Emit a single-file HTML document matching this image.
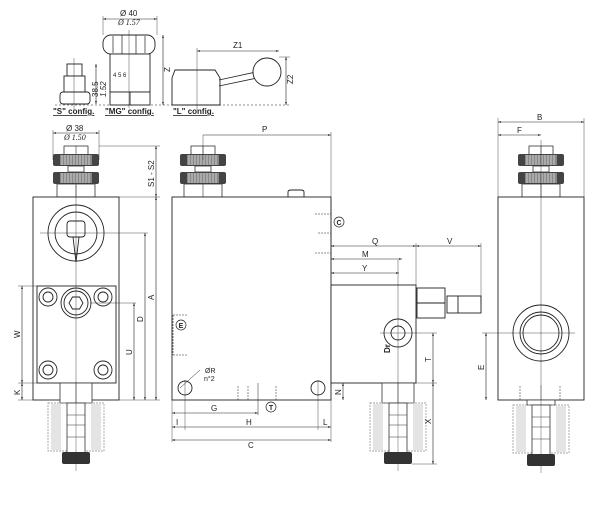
<!DOCTYPE html>
<html><head><meta charset="utf-8"><style>
html,body{margin:0;padding:0;background:#fff;}
svg{display:block;font-family:"Liberation Sans",sans-serif;}
</style></head><body>
<svg width="600" height="522" viewBox="0 0 600 522" xmlns="http://www.w3.org/2000/svg">
<defs>
<marker id="a" viewBox="0 0 10 10" refX="10" refY="5" markerWidth="5" markerHeight="5" orient="auto-start-reverse"><path d="M0,2 L10,5 L0,8 z" fill="#222"/></marker>
<g id="knob">
  <rect x="-12" y="0" width="24" height="9" fill="#fff" stroke="#333" stroke-width="0.8"/>
  <line x1="0" y1="0" x2="0" y2="9" stroke="#333" stroke-width="0.6"/>
  <rect x="-23" y="8" width="46" height="12" rx="2" fill="#444"/>
  <rect x="-16" y="9" width="32" height="10" fill="#888"/>
  <path d="M-14,9v10M-11,9v10M-8,9v10M-5,9v10M-2,9v10M1,9v10M4,9v10M7,9v10M10,9v10M13,9v10" stroke="#ddd" stroke-width="0.8"/>
  <rect x="-8" y="20" width="16" height="6" fill="#fff" stroke="#333" stroke-width="0.8"/>
  <rect x="-23" y="26" width="46" height="12" rx="2" fill="#444"/>
  <rect x="-16" y="27" width="32" height="10" fill="#888"/>
  <path d="M-14,27v10M-11,27v10M-8,27v10M-5,27v10M-2,27v10M1,27v10M4,27v10M7,27v10M10,27v10M13,27v10" stroke="#ddd" stroke-width="0.8"/>
  <rect x="-19" y="38" width="38" height="13" fill="#fff" stroke="#333" stroke-width="0.8"/>
  <line x1="0" y1="38" x2="0" y2="51" stroke="#333" stroke-width="0.6"/>
</g>
<g id="cbody">
  <rect x="-28" y="20" width="56" height="48" fill="none" stroke="#888" stroke-width="0.7" stroke-dasharray="2,1"/>
  <rect x="-25" y="21" width="10" height="46" fill="#ddd" opacity="0.8"/>
  <rect x="15" y="21" width="10" height="46" fill="#ddd" opacity="0.8"/>
  <rect x="-9" y="20" width="18" height="50" fill="#fff" stroke="#333" stroke-width="0.8"/>
  <path d="M-9,32h18M-9,42h18M-9,54h18" stroke="#333" stroke-width="0.6"/>
  <rect x="-14" y="69" width="28" height="12" rx="2" fill="#333"/>
  <line x1="0" y1="0" x2="0" y2="88" stroke="#333" stroke-width="0.4"/>
</g>
<g id="cart">
  <rect x="-16" y="0" width="32" height="20" fill="#fff" stroke="#333" stroke-width="0.8"/>
  <line x1="0" y1="0" x2="0" y2="20" stroke="#333" stroke-width="0.6"/>
  <use href="#cbody"/>
</g>
<g id="cart2">
  <rect x="-14" y="0" width="28" height="5" fill="#fff" stroke="#333" stroke-width="0.8"/>
  <use href="#cbody" y="-15"/>
</g>
</defs>
<g stroke="#222" stroke-width="0.9" fill="none">
<rect x="67" y="64" width="15" height="12" fill="#fff"/>
<rect x="64" y="76" width="21" height="16" fill="#fff"/>
<rect x="60" y="92" width="30" height="12" rx="3" fill="#fff"/>
<line x1="74" y1="58" x2="74" y2="110" stroke-width="0.4"/>
<line x1="96" y1="64" x2="96" y2="104" stroke-width="0.6" marker-start="url(#a)" marker-end="url(#a)"/>
<rect x="103" y="35" width="52" height="19" rx="8" fill="#fff"/>
<path d="M113,36v17M122,35v19M136,35v19M145,36v17" stroke-width="0.7"/>
<rect x="110" y="54" width="40" height="38" fill="#fff"/>
<rect x="110" y="92" width="40" height="13" fill="#fff"/>
<line x1="130" y1="92" x2="130" y2="105"/>
<line x1="129" y1="30" x2="129" y2="108" stroke-width="0.4"/>
<line x1="103" y1="19" x2="157" y2="19" stroke-width="0.6" marker-start="url(#a)" marker-end="url(#a)"/>
<line x1="103" y1="16" x2="103" y2="35" stroke-width="0.4"/><line x1="157" y1="16" x2="157" y2="35" stroke-width="0.4"/>
<line x1="163" y1="35" x2="163" y2="105" stroke-width="0.6" marker-start="url(#a)" marker-end="url(#a)"/>
<line x1="55" y1="105" x2="290" y2="105" stroke-width="0.5" stroke-dasharray="2,2"/>
<path d="M175,70 h40 l5,8 v27 h-48 v-27 z" fill="#fff"/>
<path d="M219,80 L256,72 M219,86 L257,78" stroke-width="0.8"/>
<circle cx="267" cy="72" r="14" fill="#fff"/>
<line x1="197" y1="48" x2="197" y2="110" stroke-width="0.4"/>
<line x1="197" y1="51" x2="279" y2="51" stroke-width="0.6" marker-start="url(#a)" marker-end="url(#a)"/>
<line x1="286" y1="57" x2="286" y2="105" stroke-width="0.6" marker-start="url(#a)" marker-end="url(#a)"/>
<line x1="279" y1="57" x2="290" y2="57" stroke-width="0.4"/>
</g>
<g font-size="8" fill="#222">
<text x="120" y="16">Ø 40</text>
<text x="118" y="25" font-style="italic" font-family="Liberation Serif">Ø 1.57</text>
<text x="170" y="72" transform="rotate(-90 170 72)">Z</text>
<text x="233" y="48">Z1</text>
<text x="293" y="84" transform="rotate(-90 293 84)">Z2</text>
<text x="98" y="97" transform="rotate(-90 98 97)">38.5</text>
<text x="106" y="97" transform="rotate(-90 106 97)" font-style="italic">1.52</text>
<text x="113" y="77" font-size="6">4  5  6</text>
</g>
<g font-size="8" font-weight="bold" fill="#222" text-decoration="underline">
<text x="53" y="114">"S" config.</text>
<text x="105" y="114">"MG" config.</text>
<text x="173" y="114">"L" config.</text>
<text x="53" y="206">"V" config.</text>
</g>

<use href="#knob" x="76" y="146"/>
<use href="#knob" x="203" y="146"/>
<use href="#knob" x="541" y="146"/>

<g stroke="#222" stroke-width="0.9" fill="none">
<rect x="33" y="197" width="86" height="203" fill="#fff"/>
<circle cx="76" cy="233" r="28"/><circle cx="76" cy="233" r="21"/>
<rect x="67" y="221" width="18" height="16" rx="3"/>
<path d="M73,237 l3,25 l3,-25"/>
<rect x="37" y="286" width="79" height="97"/>
<circle cx="48" cy="297" r="9"/><circle cx="48" cy="297" r="5"/>
<circle cx="103" cy="297" r="9"/><circle cx="103" cy="297" r="5"/>
<circle cx="48" cy="370" r="9"/><circle cx="48" cy="370" r="5"/>
<circle cx="103" cy="370" r="9"/><circle cx="103" cy="370" r="5"/>
<circle cx="76" cy="303" r="15"/><circle cx="76" cy="303" r="12"/>
<path d="M69,303 l3.5,-6 h7 l3.5,6 l-3.5,6 h-7 z"/>
<line x1="76" y1="185" x2="76" y2="383" stroke-width="0.4"/>
<line x1="40" y1="233" x2="148" y2="233" stroke-width="0.4"/>
<line x1="90" y1="303" x2="136" y2="303" stroke-width="0.4"/>
<line x1="53" y1="133" x2="99" y2="133" stroke-width="0.6" marker-start="url(#a)" marker-end="url(#a)"/>
<line x1="53" y1="130" x2="53" y2="160" stroke-width="0.4"/><line x1="99" y1="130" x2="99" y2="160" stroke-width="0.4"/>
<line x1="99" y1="146" x2="160" y2="146" stroke-width="0.4"/>
<line x1="156" y1="146" x2="156" y2="197" stroke-width="0.6" marker-start="url(#a)" marker-end="url(#a)"/>
<line x1="119" y1="197" x2="160" y2="197" stroke-width="0.4"/>
<line x1="156" y1="197" x2="156" y2="400" stroke-width="0.6" marker-start="url(#a)" marker-end="url(#a)"/>
<line x1="145" y1="233" x2="145" y2="400" stroke-width="0.6" marker-start="url(#a)" marker-end="url(#a)"/>
<line x1="134" y1="303" x2="134" y2="400" stroke-width="0.6" marker-start="url(#a)" marker-end="url(#a)"/>
<line x1="119" y1="400" x2="160" y2="400" stroke-width="0.4"/>
<line x1="22" y1="286" x2="22" y2="383" stroke-width="0.6" marker-start="url(#a)" marker-end="url(#a)"/>
<line x1="22" y1="383" x2="22" y2="400" stroke-width="0.6" marker-start="url(#a)" marker-end="url(#a)"/>
<line x1="18" y1="286" x2="37" y2="286" stroke-width="0.4"/><line x1="18" y1="383" x2="37" y2="383" stroke-width="0.4"/><line x1="18" y1="400" x2="33" y2="400" stroke-width="0.4"/>

<rect x="172" y="197" width="159" height="203" fill="#fff"/>
<path d="M288,197 v-5 q0,-2 3,-2 h10 q3,0 3,2 v5"/>
<path d="M331,200 v60" stroke-dasharray="2,1" stroke-width="0.7"/>
<path d="M315,214 h16 M318,233 h13 M315,253 h16" stroke-dasharray="2,1" stroke-width="0.5"/>
<path d="M173,315 h14 M173,355 h14 M173,315 v40" stroke-dasharray="2,1" stroke-width="0.6"/>
<circle cx="185" cy="388" r="7"/>
<circle cx="318" cy="388" r="7"/>
<path d="M238,400 v-14 M248,400 v-14 M276,400 v-14" stroke-dasharray="2,1" stroke-width="0.5"/>
<line x1="258" y1="383" x2="258" y2="415" stroke-width="0.5"/>
<line x1="203" y1="135" x2="203" y2="160" stroke-width="0.4"/>
<line x1="203" y1="135" x2="331" y2="135" stroke-width="0.6" marker-end="url(#a)"/>
<line x1="331" y1="132" x2="331" y2="197" stroke-width="0.4"/>
<line x1="172" y1="400" x2="172" y2="442" stroke-width="0.4"/>
<line x1="185" y1="380" x2="185" y2="430" stroke-width="0.4"/>
<line x1="318" y1="380" x2="318" y2="430" stroke-width="0.4"/>
<line x1="331" y1="400" x2="331" y2="442" stroke-width="0.4"/>
<line x1="172" y1="413" x2="258" y2="413" stroke-width="0.6" marker-start="url(#a)" marker-end="url(#a)"/>
<line x1="172" y1="427" x2="331" y2="427" stroke-width="0.6" marker-start="url(#a)" marker-end="url(#a)"/>
<line x1="172" y1="440" x2="331" y2="440" stroke-width="0.6" marker-start="url(#a)" marker-end="url(#a)"/>
<line x1="180" y1="388" x2="200" y2="370" stroke-width="0.5"/>
<rect x="331" y="285" width="85" height="98" fill="#fff"/>
<rect x="417" y="288" width="28" height="30" fill="#fff"/>
<line x1="417" y1="303" x2="445" y2="303"/>
<rect x="447" y="296" width="34" height="17" fill="#fff"/>
<line x1="458" y1="296" x2="458" y2="313"/>
<circle cx="398" cy="333" r="14"/><circle cx="398" cy="333" r="7"/>
<line x1="398" y1="260" x2="398" y2="383" stroke-width="0.4"/>
<line x1="380" y1="333" x2="437" y2="333" stroke-width="0.4"/>
<line x1="331" y1="246" x2="416" y2="246" stroke-width="0.6" marker-start="url(#a)" marker-end="url(#a)"/>
<line x1="416" y1="246" x2="481" y2="246" stroke-width="0.6" marker-start="url(#a)" marker-end="url(#a)"/>
<line x1="416" y1="243" x2="416" y2="285" stroke-width="0.4"/>
<line x1="481" y1="243" x2="481" y2="305" stroke-width="0.4"/>
<line x1="331" y1="259" x2="402" y2="259" stroke-width="0.6" marker-start="url(#a)" marker-end="url(#a)"/>
<line x1="331" y1="273" x2="399" y2="273" stroke-width="0.6" marker-start="url(#a)" marker-end="url(#a)"/>
<line x1="433" y1="333" x2="433" y2="383" stroke-width="0.6" marker-start="url(#a)" marker-end="url(#a)"/>
<line x1="433" y1="383" x2="433" y2="464" stroke-width="0.6" marker-start="url(#a)" marker-end="url(#a)"/>
<line x1="416" y1="383" x2="437" y2="383" stroke-width="0.4"/>
<line x1="412" y1="464" x2="437" y2="464" stroke-width="0.4"/>
<line x1="343" y1="383" x2="343" y2="400" stroke-width="0.6" marker-start="url(#a)" marker-end="url(#a)"/>

<rect x="498" y="197" width="86" height="203" fill="#fff"/>
<circle cx="541" cy="333" r="28"/><circle cx="541" cy="333" r="21"/><circle cx="541" cy="333" r="18"/>
<line x1="541" y1="140" x2="541" y2="400" stroke-width="0.4"/>
<line x1="482" y1="333" x2="575" y2="333" stroke-width="0.4"/>
<line x1="498" y1="122" x2="584" y2="122" stroke-width="0.6" marker-start="url(#a)" marker-end="url(#a)"/>
<line x1="498" y1="135" x2="541" y2="135" stroke-width="0.6" marker-start="url(#a)" marker-end="url(#a)"/>
<line x1="498" y1="118" x2="498" y2="197" stroke-width="0.4"/><line x1="584" y1="118" x2="584" y2="197" stroke-width="0.4"/>
<line x1="486" y1="333" x2="486" y2="400" stroke-width="0.6" marker-start="url(#a)" marker-end="url(#a)"/>
<path d="M520,400 v-14 M560,400 v-14" stroke-dasharray="2,1" stroke-width="0.5"/>
</g>
<use href="#cart" x="76" y="383"/>
<use href="#cart" x="398" y="383"/>
<use href="#cart2" x="541" y="400"/>

<g font-size="8" fill="#222">
<text x="66" y="131">Ø 38</text>
<text x="64" y="140" font-style="italic" font-family="Liberation Serif">Ø 1.50</text>
<text x="154" y="187" transform="rotate(-90 154 187)">S1 - S2</text>
<text x="154" y="300" transform="rotate(-90 154 300)">A</text>
<text x="143" y="322" transform="rotate(-90 143 322)">D</text>
<text x="132" y="355" transform="rotate(-90 132 355)">U</text>
<text x="20" y="338" transform="rotate(-90 20 338)">W</text>
<text x="20" y="395" transform="rotate(-90 20 395)">K</text>
<text x="262" y="132">P</text>
<text x="211" y="411">G</text>
<text x="246" y="425">H</text>
<text x="248" y="448">C</text>
<text x="176" y="425">I</text>
<text x="323" y="425">L</text>
<text x="205" y="373" font-size="7">ØR</text>
<text x="204" y="381" font-size="7">n°2</text>
<text x="372" y="244">Q</text>
<text x="447" y="244">V</text>
<text x="362" y="257">M</text>
<text x="362" y="271">Y</text>
<text x="431" y="362" transform="rotate(-90 431 362)">T</text>
<text x="431" y="424" transform="rotate(-90 431 424)">X</text>
<text x="341" y="395" transform="rotate(-90 341 395)">N</text>
<text x="484" y="370" transform="rotate(-90 484 370)">E</text>
<text x="537" y="120">B</text>
<text x="517" y="133">F</text>
<text x="390" y="353" font-weight="bold" transform="rotate(-90 390 353)">Dr</text>
</g>
<g font-size="7" font-weight="bold" fill="#222" text-anchor="middle">
<circle cx="339" cy="222" r="5" fill="#fff" stroke="#222" stroke-width="0.7"/><text x="339" y="225">C</text>
<circle cx="181" cy="325" r="5" fill="#fff" stroke="#222" stroke-width="0.7"/><text x="181" y="328">E</text>
<circle cx="271" cy="407" r="5" fill="#fff" stroke="#222" stroke-width="0.7"/><text x="271" y="410">T</text>
</g>
</svg>
</body></html>
